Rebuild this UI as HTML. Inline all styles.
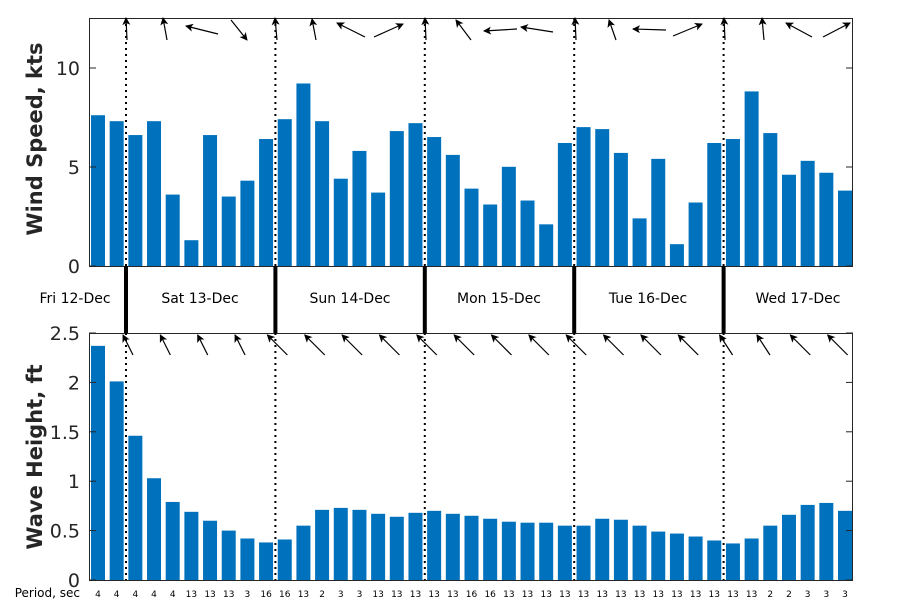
<!DOCTYPE html>
<html><head><meta charset="utf-8"><style>body{margin:0;background:#fff}</style></head><body>
<svg id="s" width="900" height="600" xmlns="http://www.w3.org/2000/svg" font-family="DejaVu Sans, sans-serif">
<defs><marker id="ah" markerWidth="8" markerHeight="8" refX="7" refY="4" orient="auto" markerUnits="userSpaceOnUse" viewBox="0 0 8 8"><path d="M0,0 L8,4 L0,8 L2,4 z" fill="#000"/></marker></defs>
<g id="g"></g>
</svg>
<script>
const g=document.getElementById('g');let h='';
const w=[7.6,7.3,6.6,7.3,3.6,1.3,6.6,3.5,4.3,6.4,7.4,9.2,7.3,4.4,5.8,3.7,6.8,7.2,6.5,5.6,3.9,3.1,5.0,3.3,2.1,6.2,7.0,6.9,5.7,2.4,5.4,1.1,3.2,6.2,6.4,8.8,6.7,4.6,5.3,4.7,3.8];
const v=[2.37,2.01,1.46,1.03,0.79,0.69,0.60,0.50,0.42,0.38,0.41,0.55,0.71,0.73,0.71,0.67,0.64,0.68,0.70,0.67,0.65,0.62,0.59,0.58,0.58,0.55,0.55,0.62,0.61,0.55,0.49,0.47,0.44,0.40,0.37,0.42,0.55,0.66,0.76,0.78,0.70];
const p=[4,4,4,4,4,13,13,13,3,16,16,13,2,3,3,13,13,13,13,13,16,16,13,13,13,13,13,13,13,13,13,13,13,13,13,13,2,2,3,3,3];
const sp=18.675,bw=14;
for(let i=0;i<41;i++){const c=98+i*sp;
 h+=`<rect x="${c-bw/2}" y="${266-w[i]*19.84}" width="${bw}" height="${w[i]*19.84}" fill="#0072bd"/>`;
 h+=`<rect x="${c-bw/2}" y="${580-v[i]*98.8}" width="${bw}" height="${v[i]*98.8}" fill="#0072bd"/>`;
 h+=`<text x="${c}" y="597" font-size="9" text-anchor="middle">${p[i]}</text>`;}
h+=`<rect x="89.5" y="18.5" width="763" height="248" fill="none" stroke="#262626"/>`;
h+=`<rect x="89.5" y="333.5" width="763" height="247" fill="none" stroke="#262626"/>`;
[[0,266],[5,167],[10,68]].forEach(([t,y])=>{h+=`<line x1="89" x2="96" y1="${y}" y2="${y}" stroke="#262626"/><line x1="846" x2="853" y1="${y}" y2="${y}" stroke="#262626"/><text x="80" y="${y+7}" font-size="19" text-anchor="end" fill="#262626">${t}</text>`});
[0,0.5,1,1.5,2,2.5].forEach(t=>{const y=580-t*98.8;h+=`<line x1="89" x2="96" y1="${y}" y2="${y}" stroke="#262626"/><line x1="846" x2="853" y1="${y}" y2="${y}" stroke="#262626"/><text x="80" y="${y+7}" font-size="19" text-anchor="end" fill="#262626">${t}</text>`});
h+=`<text transform="translate(42,139) rotate(-90)" font-size="21" font-weight="bold" text-anchor="middle" fill="#262626">Wind Speed, kts</text>`;
h+=`<text transform="translate(42,457) rotate(-90)" font-size="21" font-weight="bold" text-anchor="middle" fill="#262626">Wave Height, ft</text>`;
h+=`<text x="80" y="597" font-size="12" text-anchor="end">Period, sec</text>`;
[126,275.4,424.8,574.2,723.6].forEach(x=>{h+=`<line x1="${x}" x2="${x}" y1="18" y2="266" stroke="#000" stroke-width="2" stroke-dasharray="2,4"/><line x1="${x}" x2="${x}" y1="333" y2="580" stroke="#000" stroke-width="2" stroke-dasharray="2,4"/><line x1="${x}" x2="${x}" y1="266" y2="333" stroke="#000" stroke-width="4"/>`});
[["Fri 12-Dec",75],["Sat 13-Dec",200],["Sun 14-Dec",350],["Mon 15-Dec",499],["Tue 16-Dec",648],["Wed 17-Dec",798]].forEach(([t,x])=>{h+=`<text x="${x}" y="303" font-size="14" text-anchor="middle">${t}</text>`});
const ta=[[127,40,126,18],[167,40,163,18],[218,34,186,26],[231,20,247,40],[277,40,275,18],[316,40,312,19],[365,37,337,23],[374,37,403,24],[426,40,425,18],[471,40,456,20],[517,29,484,31],[553,32,521,27],[576,40,575,18],[616,40,609,20],[666,30,633,29],[673,36,702,24],[725,40,724,18],[764,40,762,18],[812,37,786,23],[823,37,850,23]];
ta.forEach(a=>h+=`<line x1="${a[0]}" y1="${a[1]}" x2="${a[2]}" y2="${a[3]}" stroke="#000" stroke-width="1.2" marker-end="url(#ah)"/>`);
for(let k=0;k<20;k++){const c=126+k*37.35;let hx,tx;
 if(k<4){hx=c-3;tx=c+7;}else if(k==16||k==17){hx=c-4;tx=c+9;}else{hx=c-8;tx=c+12;}
 h+=`<line x1="${tx}" y1="355" x2="${hx}" y2="335" stroke="#000" stroke-width="1.2" marker-end="url(#ah)"/>`;}
g.innerHTML=h;
</script>
</body></html>
